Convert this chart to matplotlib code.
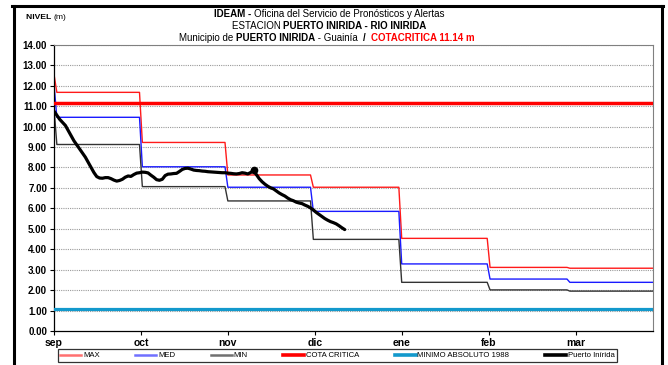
import matplotlib
matplotlib.use("Agg")
import matplotlib.pyplot as plt
from matplotlib import font_manager
from matplotlib.lines import Line2D
import numpy as np

# ---------------- data ----------------
months = ["sep", "oct", "nov", "dic", "ene", "feb", "mar"]
month_start_day = [0, 31, 61, 91, 122, 153, 181]   # day index where each monthly level begins
last_day = 210

# first-day values of the historical curves (sep 1)
max_first, med_first, min_first = 12.55, 12.05, 10.9
# monthly historical levels (m)
max_monthly = [11.67, 9.22, 7.63, 7.03, 4.53, 3.11, 3.07]
med_monthly = [10.45, 8.03, 7.03, 5.85, 3.28, 2.54, 2.38]
min_monthly = [9.12, 7.06, 6.36, 4.48, 2.38, 2.01, 1.95]

cota_critica = 11.14
minimo_absoluto_1988 = 1.06

# daily observed level, Puerto Inírida (from sep 1)
puerto_inirida = [
    10.75, 10.55, 10.35, 10.20, 10.05, 9.80, 9.55, 9.30, 9.10, 8.90,
    8.70, 8.50, 8.25, 8.00, 7.75, 7.55, 7.48, 7.47, 7.50, 7.50,
    7.45, 7.38, 7.33, 7.36, 7.42, 7.52, 7.58, 7.56, 7.65, 7.72,
    7.74, 7.77, 7.76, 7.73, 7.62, 7.52, 7.40, 7.37, 7.42, 7.60,
    7.67, 7.68, 7.70, 7.71, 7.80, 7.90, 7.95, 7.96, 7.92, 7.87,
    7.85, 7.84, 7.82, 7.81, 7.79, 7.78, 7.77, 7.76, 7.75, 7.74,
    7.74, 7.72, 7.71, 7.69, 7.68, 7.70, 7.74, 7.72, 7.68, 7.75,
    7.85, 7.65, 7.45, 7.30, 7.18, 7.08, 7.00, 6.95, 6.85, 6.75,
    6.67, 6.60, 6.50, 6.42, 6.37, 6.30, 6.26, 6.23, 6.16, 6.10,
    6.02, 5.92, 5.80, 5.70, 5.60, 5.50, 5.42, 5.35, 5.30, 5.24,
    5.15, 5.05, 4.96,
]
highlight_day = 70

y_ticks = np.arange(0, 15, 1)
month_tick_days = [0, 30.5, 61, 91.5, 122, 152.5, 183]

# ---------------- fonts ----------------
available = {f.name for f in font_manager.fontManager.ttflist}
NARROW = "Liberation Sans Narrow" if "Liberation Sans Narrow" in available else "Liberation Sans"
narrow = NARROW == "Liberation Sans Narrow"
FAM_N = [NARROW, "DejaVu Sans"]
FAM_R = ["Liberation Sans", "DejaVu Sans"]
title_size = 8.5 if narrow else 7.0
legend_size = 6.8 if narrow else 5.6
nivel_size = 7.4 if narrow else 6.1


def daily_curve(first, monthly):
    days = np.arange(0, last_day + 1)
    idx = np.searchsorted(month_start_day, days, side="right") - 1
    vals = np.array(monthly)[idx].astype(float)
    vals[0] = first
    return days, vals


W, H = 668, 365
fig = plt.figure(figsize=(W / 100, H / 100), dpi=100)
ax = fig.add_axes([54 / W, 1 - 331 / H, (652.5 - 54) / W, (331 - 44.7) / H])

# grid
for v in y_ticks[1:]:
    ax.axhline(v, color="#9a9a9a", lw=0.8, ls=(0, (1, 1)), zorder=0)

c_max, c_med, c_min = "#ff1a1a", "#1a1aff", "#333333"
for first, monthly, col in [(max_first, max_monthly, c_max),
                            (med_first, med_monthly, c_med),
                            (min_first, min_monthly, c_min)]:
    d, v = daily_curve(first, monthly)
    ax.plot(d, v, color=col, lw=1.0, zorder=2)

ax.axhline(cota_critica, color="#ff0000", lw=2.5, zorder=3)
ax.axhline(minimo_absoluto_1988, color="#1399cc", lw=2.3, zorder=3)

pdays = np.arange(len(puerto_inirida))
ax.plot(pdays, puerto_inirida, color="black", lw=2.3, zorder=4,
        solid_capstyle="round", solid_joinstyle="round")
ax.plot(pdays[highlight_day], puerto_inirida[highlight_day], "o",
        color="black", ms=4.5, zorder=5)

ax.set_xlim(0, 210)
ax.set_ylim(0, 14)
ax.set_yticks(y_ticks)
ax.set_yticklabels([f"{v:.2f}" for v in y_ticks], fontsize=7, fontweight="bold",
                   family=FAM_R)
ax.set_xticks(month_tick_days)
ax.set_xticklabels(months, fontsize=7.5, fontweight="bold", family=FAM_R)
ax.tick_params(axis="y", length=3, width=0.8, pad=2, direction="out")
ax.tick_params(axis="x", length=3, width=0.8, pad=2, direction="out")
for s in ["left", "bottom"]:
    ax.spines[s].set_color("black")
    ax.spines[s].set_linewidth(0.9)
for s in ["top", "right"]:
    ax.spines[s].set_color("#808080")
    ax.spines[s].set_linewidth(0.8)

# outer frame of the chart
fig.add_artist(Line2D([13.5 / W, 13.5 / W], [0, 1 - 6 / H], color="black", lw=2.2,
                      transform=fig.transFigure))
fig.add_artist(Line2D([661.5 / W, 661.5 / W], [0, 1 - 6 / H], color="black", lw=2.2,
                      transform=fig.transFigure))
fig.add_artist(Line2D([12.5 / W, 662.5 / W], [1 - 6 / H, 1 - 6 / H], color="black", lw=2.2,
                      transform=fig.transFigure))

# ---------------- titles ----------------
renderer = fig.canvas.get_renderer()


def rich_line(y_px, parts, x_center_px, size):
    texts = []
    for s, w, c in parts:
        t = fig.text(0, 1 - y_px / H, s, fontsize=size, fontweight=w, color=c,
                     ha="left", va="baseline", family=FAM_N)
        texts.append(t)
    widths = []
    for t in texts:
        s = t.get_text()
        # measure with a sentinel so trailing/leading spaces count
        t.set_text("|" + s + "|")
        w_full = t.get_window_extent(renderer).width
        t.set_text("||")
        w_bar = t.get_window_extent(renderer).width
        t.set_text(s)
        widths.append(w_full - w_bar)
    x = x_center_px - sum(widths) / 2
    for t, w in zip(texts, widths):
        t.set_x(x / W)
        x += w


rich_line(17, [("IDEAM - ", "bold", "black"),
               ("Oficina del Servicio de Pronósticos y Alertas", "normal", "black")],
          329, title_size)
rich_line(29, [("ESTACION ", "normal", "black"),
               ("PUERTO INIRIDA - RIO INIRIDA", "bold", "black")], 329, title_size)
rich_line(41, [("Municipio de ", "normal", "black"),
               ("PUERTO INIRIDA", "bold", "black"),
               (" - Guainía  ", "normal", "black"),
               ("/  ", "bold", "black"),
               ("COTACRITICA 11.14 m", "bold", "#ff0000")], 327, title_size)

rich_line(19, [("NIVEL ", "bold", "black"), ("(m)", "normal", "black")], 46.5, nivel_size)

# ---------------- legend ----------------
handles = [
    Line2D([], [], color="#ff7070", lw=1.8),
    Line2D([], [], color="#7070ff", lw=1.8),
    Line2D([], [], color="#707070", lw=1.8),
    Line2D([], [], color="#ff0000", lw=2.6),
    Line2D([], [], color="#1399cc", lw=2.6),
    Line2D([], [], color="black", lw=2.6),
]
labels = ["MAX", "MED", "MIN", "COTA CRITICA", "MINIMO ABSOLUTO 1988", "Puerto Inírida"]
leg = fig.legend(handles, labels, loc="center", bbox_to_anchor=(337.5 / W, 1 - 355.5 / H),
                 ncol=6, frameon=True, fancybox=False, edgecolor="black",
                 prop={"family": FAM_N, "size": legend_size},
                 handlelength=2.7, handletextpad=0.2, columnspacing=4.6,
                 borderpad=0.35, borderaxespad=0)
leg.get_frame().set_linewidth(0.9)

fig.savefig("out.png", dpi=100, facecolor="white")
